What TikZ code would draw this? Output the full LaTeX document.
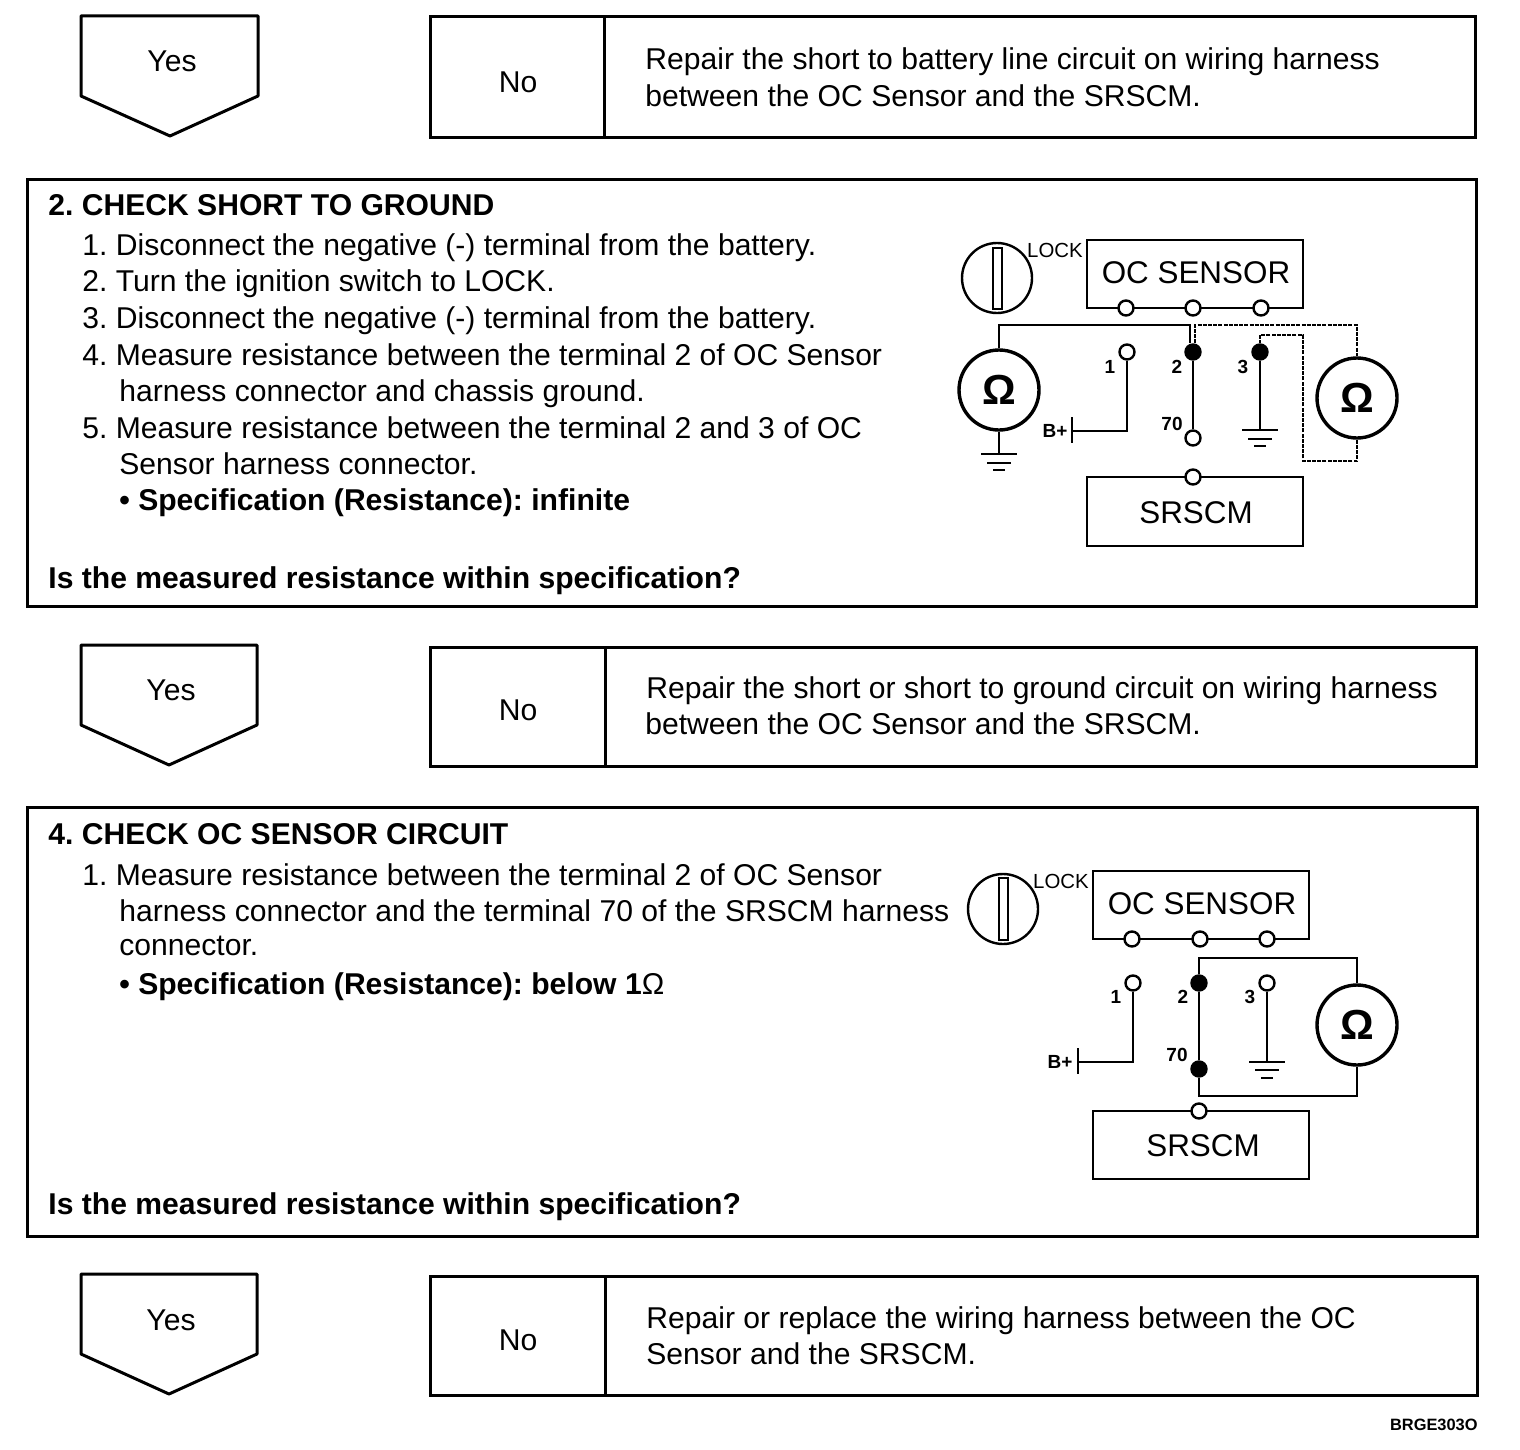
\documentclass[tikz,border=0pt]{standalone}
\usepackage{fontspec}
\setmainfont{Liberation Sans}
\frenchspacing
\newcommand{\bodysz}{\fontsize{15.05pt}{18pt}\selectfont}
\newcommand{\groundsym}[7]{%
  \draw[wire] (#1) ++(-#2,0) -- ++(2*#2,0);
  \draw[wire] (#1) ++(-#3,#4) -- ++(2*#3,0);
  \draw[wire] (#1) ++(-#5,#6) -- ++(2*#5,0);}
\tikzset{
  frame/.style={draw=black,line width=1.5pt,fill=none},
  wire/.style={draw=black,line width=1.25pt},
  dwire/.style={draw=black,line width=1.25pt,dash pattern=on 2pt off 0.6pt},
  txt/.style={anchor=base west,inner sep=0pt,font=\bodysz},
  ctr/.style={anchor=center,inner sep=0pt,font=\bodysz},
  boxlabel/.style={anchor=center,inner sep=0pt,font=\fontsize{15.7pt}{18pt}\selectfont},
  tiny/.style={anchor=center,inner sep=0pt,font=\fontsize{9.5pt}{10pt}\selectfont\bfseries},
  locklabel/.style={anchor=center,inner sep=0pt,font=\fontsize{10.2pt}{11pt}\selectfont},
  oterm/.style={circle,draw=black,line width=1.2pt,fill=white,minimum size=7.5pt,inner sep=0pt},
  fterm/.style={circle,draw=black,line width=1.2pt,fill=black,minimum size=7.5pt,inner sep=0pt},
  meter/.style={circle,draw=black,line width=1.7pt,fill=white,minimum size=40pt,inner sep=0pt,font=\fontsize{21pt}{21pt}\selectfont\bfseries},
  dial/.style={circle,draw=black,line width=1.2pt,minimum size=35pt,inner sep=0pt},
  slot/.style={draw=black,line width=1.1pt},
}
\begin{document}
\begin{tikzpicture}[x=0.5pt,y=-0.5pt]
\useasboundingbox[fill=white] (0,0) rectangle (1520,1450);
% --- row 1
\draw[frame,line join=round] (81,16) -- (258,16) -- (258,96) -- (170,136) -- (81,96) -- cycle;
\node[ctr] (yes1) at (172,61) {Yes};
\draw[frame] (430,17) rectangle (1475,138);
\draw[frame] (604,17) -- (604,138);
\node[ctr] (no1) at (518,82) {No};
\node[txt] (r1a) at (645,70) {Repair the short to battery line circuit on wiring harness};
\node[txt] (r1b) at (645,106) {between the OC Sensor and the SRSCM.};
% --- step 2
\draw[frame] (27,179) rectangle (1476,606);
\node[txt,font=\bodysz\bfseries] (h2) at (48,215) {2. CHECK SHORT TO GROUND};
\node[txt] (s2a) at (82,255) {1. Disconnect the negative (-) terminal from the battery.};
\node[txt] (s2b) at (82,291) {2. Turn the ignition switch to LOCK.};
\node[txt] (s2c) at (82,328) {3. Disconnect the negative (-) terminal from the battery.};
\node[txt] (s2d) at (82,365) {4. Measure resistance between the terminal 2 of OC Sensor};
\node[txt] (s2e) at (119,401) {harness connector and chassis ground.};
\node[txt] (s2f) at (82,438) {5. Measure resistance between the terminal 2 and 3 of OC};
\node[txt] (s2g) at (119,474) {Sensor harness connector.};
\node[txt,font=\bodysz\bfseries] (s2h) at (119,510) {• Specification (Resistance): infinite};
\node[txt,font=\bodysz\bfseries] (q2) at (48,588) {Is the measured resistance within specification?};
% diagram A
\node[dial] (dA) at (997,278) {};
\draw[slot] (993,248) rectangle (1002,309);
\node[locklabel] (lockA) at (1055,250) {LOCK};
\draw[wire] (1087,240) rectangle (1303,308);
\node[boxlabel] (ocA) at (1196,273) {OC SENSOR};
\draw[wire] (1087,477) rectangle (1303,546);
\node[boxlabel] (srA) at (1196,513) {SRSCM};
\node[oterm] (ta1) at (1126,308) {};
\node[oterm] (ta2) at (1193,308) {};
\node[oterm] (ta3) at (1261,308) {};
\node[oterm] (tb) at (1193,477) {};
\node[meter] (mA1) at (999,390) {Ω};
\node[meter] (mA2) at (1357,398) {Ω};
\node[oterm] (pa1) at (1127,352) {};
\node[fterm] (pa2) at (1193,352) {};
\node[fterm] (pa3) at (1260,352) {};
\node[oterm] (pa70) at (1193,438) {};
\node[tiny] (la1) at (1110,367) {1};
\node[tiny] (la2) at (1177,367) {2};
\node[tiny] (la3) at (1243,367) {3};
\node[tiny] (la70) at (1172,424) {70};
\node[tiny] (lab) at (1055,431) {B+};
\coordinate (aw1) at (1190,325);
\coordinate (aw2) at (1195,325);
\coordinate (aw3) at (1303,461);
\coordinate (aw4) at (1303,335);
\coordinate (ab1) at (1072,431);
\coordinate (ab2) at (1072,417);
\coordinate (ab3) at (1072,443);
\coordinate (ag1) at (999,454);
\coordinate (ag3) at (1260,430);
\draw[wire] (mA1.north) |- (aw1) -- (aw1|-pa2.north);
\draw[dwire] (aw2|-pa2.north) -- (aw2) -| (mA2.north);
\draw[dwire] (mA2.south) |- (aw3) -- (aw4) -| (pa3.north);
\draw[wire] (pa1.south) |- (ab1);
\draw[wire] (ab2) -- (ab3);
\draw[wire] (pa2.south) -- (pa70.north);
\draw[wire] (pa3.south) -- (ag3);
\draw[wire] (mA1.south) -- (ag1);
\groundsym{ag1}{18}{12}{9}{6}{16}{}
\groundsym{ag3}{18}{12}{9}{6}{16}{}
% --- row 2
\draw[frame,line join=round] (81,645) -- (257,645) -- (257,725) -- (169,765) -- (81,725) -- cycle;
\node[ctr] (yes2) at (171,690) {Yes};
\draw[frame] (430,647) rectangle (1476,766);
\draw[frame] (605,647) -- (605,766);
\node[ctr] (no2) at (518,710) {No};
\node[txt] (r2a) at (646,698) {Repair the short or short to ground circuit on wiring harness};
\node[txt] (r2b) at (645,734) {between the OC Sensor and the SRSCM.};
% --- step 4
\draw[frame] (27,807) rectangle (1477,1236);
\node[txt,font=\bodysz\bfseries] (h4) at (48,844) {4. CHECK OC SENSOR CIRCUIT};
\node[txt] (s4a) at (82,885) {1. Measure resistance between the terminal 2 of OC Sensor};
\node[txt] (s4b) at (119,921) {harness connector and the terminal 70 of the SRSCM harness};
\node[txt] (s4c) at (119,955) {connector.};
\node[txt,font=\bodysz\bfseries] (s4d) at (119,994) {• Specification (Resistance): below 1{\mdseries Ω}};
\node[txt,font=\bodysz\bfseries] (q4) at (48,1214) {Is the measured resistance within specification?};
% diagram B
\node[dial] (dB) at (1003,909) {};
\draw[slot] (999,878) rectangle (1008,940);
\node[locklabel] (lockB) at (1061,881) {LOCK};
\draw[wire] (1093,871) rectangle (1309,939);
\node[boxlabel] (ocB) at (1202,904) {OC SENSOR};
\draw[wire] (1093,1111) rectangle (1309,1179);
\node[boxlabel] (srB) at (1203,1146) {SRSCM};
\node[oterm] (tc1) at (1132,939) {};
\node[oterm] (tc2) at (1200,939) {};
\node[oterm] (tc3) at (1267,939) {};
\node[oterm] (td) at (1199,1111) {};
\node[meter] (mB) at (1357,1025) {Ω};
\node[oterm] (pb1) at (1133,983) {};
\node[fterm] (pb2) at (1199,983) {};
\node[oterm] (pb3) at (1267,983) {};
\node[fterm] (pb70) at (1199,1069) {};
\node[tiny] (lb1) at (1116,997) {1};
\node[tiny] (lb2) at (1183,997) {2};
\node[tiny] (lb3) at (1250,997) {3};
\node[tiny] (lb70) at (1177,1055) {70};
\node[tiny] (lbb) at (1060,1062) {B+};
\coordinate (bw1) at (1199,958);
\coordinate (bw2) at (1199,1096);
\coordinate (bb1) at (1078,1062);
\coordinate (bb2) at (1078,1048);
\coordinate (bb3) at (1078,1074);
\coordinate (bg) at (1267,1062);
\draw[wire] (pb2.north) -- (bw1) -| (mB.north);
\draw[wire] (mB.south) |- (bw2) -- (pb70.south);
\draw[wire] (pb2.south) -- (pb70.north);
\draw[wire] (pb1.south) |- (bb1);
\draw[wire] (bb2) -- (bb3);
\draw[wire] (pb3.south) -- (bg);
\groundsym{bg}{18}{12}{8}{6}{16}{}
% --- row 3
\draw[frame,line join=round] (81,1274) -- (257,1274) -- (257,1354) -- (169,1394) -- (81,1354) -- cycle;
\node[ctr] (yes3) at (171,1320) {Yes};
\draw[frame] (430,1276) rectangle (1477,1395);
\draw[frame] (605,1276) -- (605,1395);
\node[ctr] (no3) at (518,1340) {No};
\node[txt] (r3a) at (646,1328) {Repair or replace the wiring harness between the OC};
\node[txt] (r3b) at (646,1364) {Sensor and the SRSCM.};
\node[anchor=base east,inner sep=0pt,font=\fontsize{8.2pt}{9pt}\selectfont\bfseries] (code) at (1478,1430) {BRGE303O};
\end{tikzpicture}
\end{document}
